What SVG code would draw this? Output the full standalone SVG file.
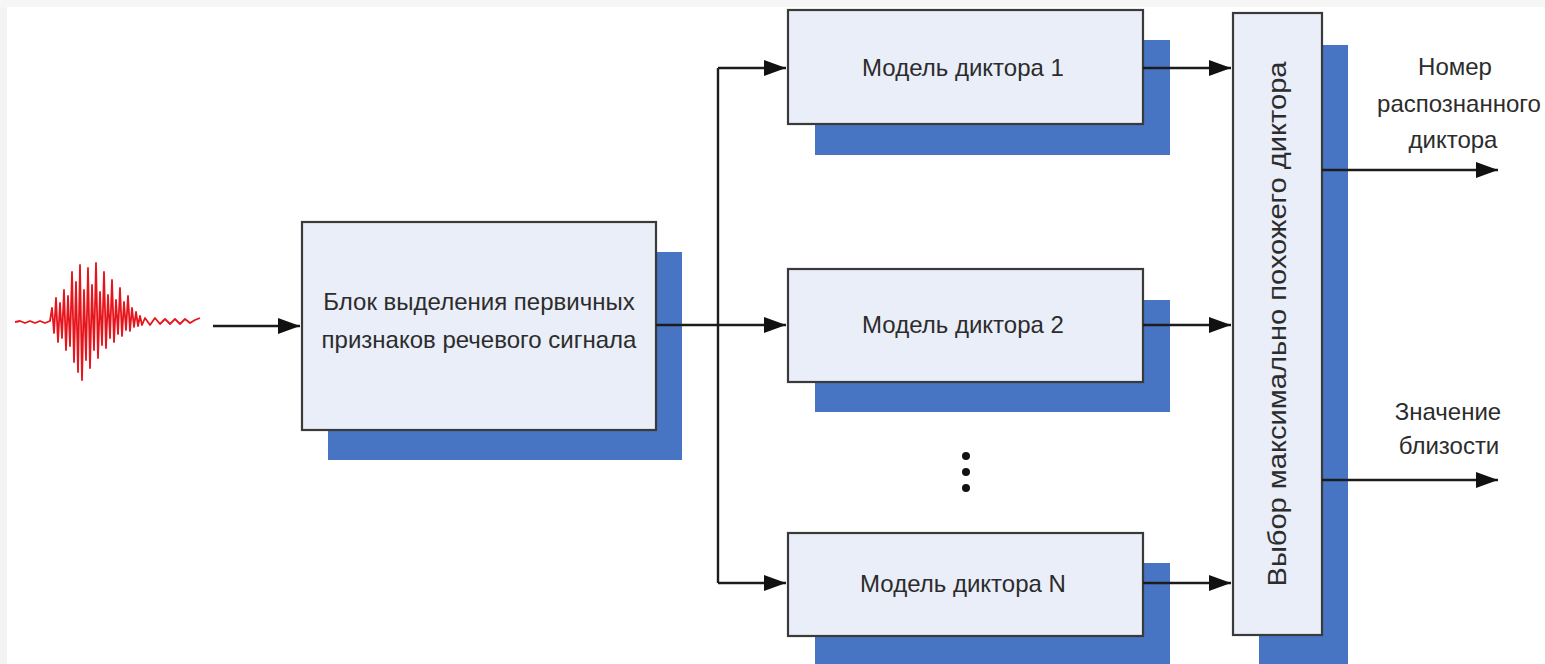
<svg xmlns="http://www.w3.org/2000/svg" width="1545" height="664" viewBox="0 0 1545 664">
  <style>
    .shadow { fill: #4874c4; }
    .box { fill: #e9eef8; stroke: #3a3a3a; stroke-width: 2.2; }
    .label { font-family: "Liberation Sans", Arial, sans-serif; font-size: 24px; fill: #2c2c2c; text-anchor: middle; }
    .vlabel { font-size: 25px; }
    .wire { fill: none; stroke: #1c1c1c; stroke-width: 2.4; }
    .wave { fill: none; stroke: #e8141c; stroke-width: 1.8; stroke-linejoin: round; }
  </style>
  <defs>
    <marker id="arrow" markerUnits="userSpaceOnUse" markerWidth="24" markerHeight="16" refX="22" refY="8" orient="auto">
      <path d="M0,0 L22,8 L0,16 Z" fill="#111"/>
    </marker>
  </defs>

  <!-- page background with light frame -->
  <rect x="0" y="0" width="1545" height="664" fill="#ffffff"/>
  <rect x="0" y="0" width="7" height="664" fill="#f3f3f3"/>
  <rect x="0" y="0" width="1545" height="7" fill="#f6f6f6"/>

  <!-- speech signal waveform -->
  <g id="signal">
    <polyline class="wave" points="15,322 20,321 25,323 30,321 35,323 40,321 45,323 50,321 52,308 54,333 56,298 58,342 60,303 62,338 64,290 66,350 68,296 70,346 72,272 74,362 76,282 78,372 80,265 82,380 84,290 86,360 88,268 90,368 92,285 94,350 96,263 98,358 100,292 102,345 104,272 106,348 108,295 110,338 112,280 114,342 116,300 118,334 120,288 122,336 124,302 126,330 128,296 130,331 132,308 134,327 136,312 138,326 140,316 142,325 145,318 150,325 155,318 160,324 165,319 170,324 175,319 180,324 185,319 190,323 195,320 200,318"/>
  </g>

  <!-- feature extraction block -->
  <g id="feature-block">
    <rect class="shadow" x="328" y="252" width="354" height="208"/>
    <rect class="box" x="302" y="222" width="354" height="208"/>
    <text class="label" x="479" y="310">Блок выделения первичных</text>
    <text class="label" x="479" y="348">признаков речевого сигнала</text>
  </g>

  <!-- speaker models -->
  <g id="model-1">
    <rect class="shadow" x="815" y="40" width="355" height="115"/>
    <rect class="box" x="788" y="10" width="355" height="114"/>
    <text class="label" x="963" y="76">Модель диктора 1</text>
  </g>
  <g id="model-2">
    <rect class="shadow" x="815" y="300" width="355" height="112"/>
    <rect class="box" x="788" y="269" width="355" height="113"/>
    <text class="label" x="963" y="333">Модель диктора 2</text>
  </g>
  <g id="ellipsis">
    <circle cx="966" cy="456" r="4" fill="#111"/>
    <circle cx="966" cy="472" r="4" fill="#111"/>
    <circle cx="966" cy="488" r="4" fill="#111"/>
  </g>
  <g id="model-n">
    <rect class="shadow" x="815" y="563" width="355" height="110"/>
    <rect class="box" x="788" y="533" width="355" height="103"/>
    <text class="label" x="963" y="592">Модель диктора N</text>
  </g>

  <!-- best-match selector -->
  <g id="selector">
    <rect class="shadow" x="1259" y="45" width="89" height="630"/>
    <rect class="box" x="1233" y="13" width="89" height="622"/>
    <text class="label vlabel" transform="translate(1286,324) rotate(-90)" textLength="525" lengthAdjust="spacingAndGlyphs">Выбор максимально похожего диктора</text>
  </g>

  <!-- output labels -->
  <g id="output-id">
    <text class="label" x="1455" y="75">Номер</text>
    <text class="label" x="1459" y="112">распознанного</text>
    <text class="label" x="1453" y="148">диктора</text>
  </g>
  <g id="output-score">
    <text class="label" x="1448" y="420">Значение</text>
    <text class="label" x="1449" y="454">близости</text>
  </g>

  <!-- connectors -->
  <g id="connectors">
    <path class="wire" d="M213,326 H300" marker-end="url(#arrow)"/>
    <path class="wire" d="M656,325 H786" marker-end="url(#arrow)"/>
    <path class="wire" d="M718,68 V583"/>
    <path class="wire" d="M718,68 H786" marker-end="url(#arrow)"/>
    <path class="wire" d="M718,583 H786" marker-end="url(#arrow)"/>
    <path class="wire" d="M1143,68 H1231" marker-end="url(#arrow)"/>
    <path class="wire" d="M1143,325 H1231" marker-end="url(#arrow)"/>
    <path class="wire" d="M1143,583 H1231" marker-end="url(#arrow)"/>
    <path class="wire" d="M1322,170 H1498" marker-end="url(#arrow)"/>
    <path class="wire" d="M1322,480 H1498" marker-end="url(#arrow)"/>
  </g>
</svg>
